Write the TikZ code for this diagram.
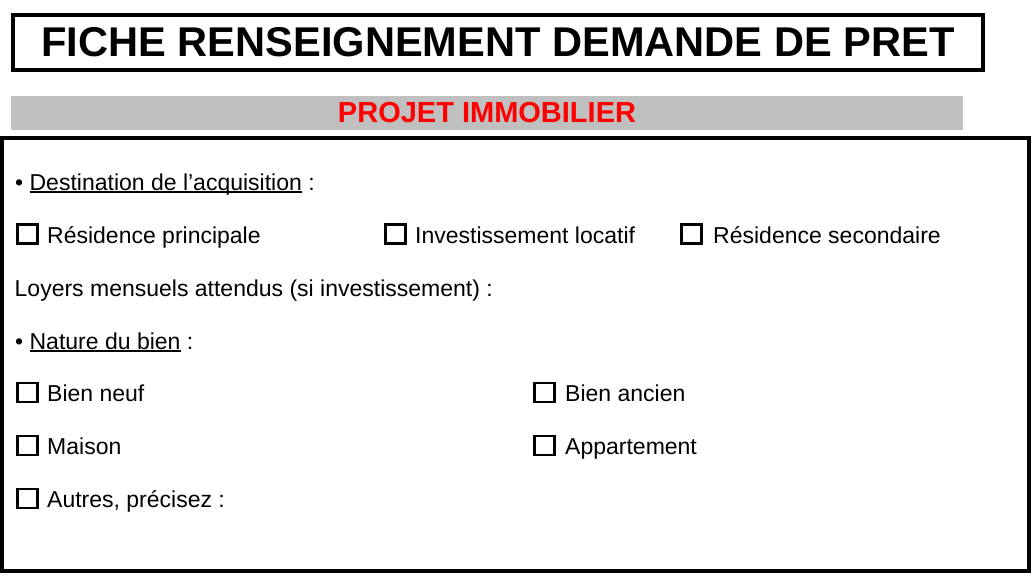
\documentclass[tikz,border=0pt]{standalone}
\usepackage{fontspec}
\setmainfont{Liberation Sans}
\definecolor{bandgray}{RGB}{192,192,192}
\definecolor{redtxt}{RGB}{255,0,0}
\newcommand\ulbox[1]{\setbox0\hbox{#1}\rlap{\rule[-2.8pt]{\wd0}{1.6pt}}\box0\relax}
\begin{document}
\begin{tikzpicture}[x=1pt,y=-1pt,
  lbl/.style={anchor=base west, inner sep=0pt, font=\fontsize{23}{27}\selectfont},
  cbox/.style={draw, line width=2.6pt, minimum width=19.8pt, minimum height=19pt, inner sep=0pt},
  titlebox/.style={draw, line width=4pt, minimum width=970pt, minimum height=55pt, inner sep=0pt,
    font=\fontsize{41.6}{48}\selectfont\bfseries},
  band/.style={fill=bandgray, minimum width=952pt, minimum height=34pt, inner sep=0pt,
    text=redtxt, font=\fontsize{29}{34}\selectfont\bfseries},
  mainframe/.style={draw, line width=4pt},
]
\useasboundingbox (0,0) rectangle (1032,575);
% title
\node[titlebox] (title) at (498,42.5) {FICHE RENSEIGNEMENT DEMANDE DE PRET};
% band
\node[band] (projet) at (487,113) {PROJET IMMOBILIER};
% main frame
\draw[mainframe] (2,138) rectangle (1029,571);
% line 1
\node[lbl] (dest) at (15,190) {•\ \ulbox{Destination de l’acquisition} :};
% line 2
\node[cbox] (cbrp) at (27.5,234) {};
\node[lbl] (trp) at (47,243) {Résidence principale};
\node[cbox] (cbil) at (395.5,234) {};
\node[lbl] (til) at (415,243) {Investissement locatif};
\node[cbox] (cbrs) at (691.5,234) {};
\node[lbl] (trs) at (713,243) {Résidence secondaire};
% line 3
\node[lbl] (loyers) at (14.5,296) {Loyers mensuels attendus (si investissement) :};
% line 4
\node[lbl] (nature) at (15,349) {•\ \ulbox{Nature du bien} :};
% line 5
\node[cbox] (cbbn) at (27.5,392.5) {};
\node[lbl] (tbn) at (47,401) {Bien neuf};
\node[cbox] (cbba) at (544.5,392.5) {};
\node[lbl] (tba) at (565,401) {Bien ancien};
% line 6
\node[cbox] (cbma) at (27.5,445.5) {};
\node[lbl] (tma) at (47,454) {Maison};
\node[cbox] (cbap) at (544.5,445.5) {};
\node[lbl] (tap) at (565,454) {Appartement};
% line 7
\node[cbox] (cbau) at (27.5,498.5) {};
\node[lbl] (tau) at (47,507) {Autres, précisez :};
\end{tikzpicture}
\end{document}
